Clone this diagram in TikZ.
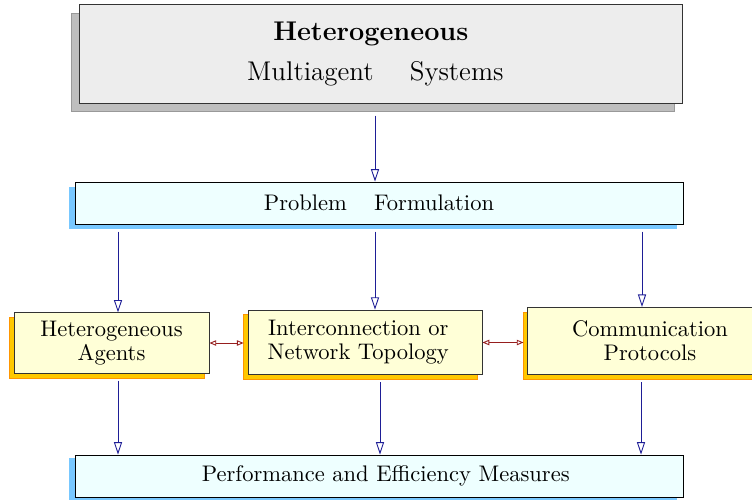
\documentclass[tikz,border=0pt]{standalone}
\usepackage{tikz}
\usetikzlibrary{calc,arrows.meta,positioning,shadows}
\definecolor{cFlow}{RGB}{30,30,150}
\definecolor{cLink}{RGB}{150,30,30}
\definecolor{cTopFill}{RGB}{237,237,237}
\definecolor{cTopShd}{RGB}{190,190,190}
\definecolor{cBlueFill}{RGB}{238,255,255}
\definecolor{cBlueShd}{RGB}{120,200,255}
\definecolor{cYelFill}{RGB}{255,255,215}
\definecolor{cYelShd}{RGB}{255,200,0}
\definecolor{cOrange}{RGB}{255,150,0}

\begin{document}
\begin{tikzpicture}[x=0.0156cm,y=-0.0156cm,
  topbox/.style={draw=black!80,fill=cTopFill,minimum width=9.39cm,minimum height=1.53cm,
    align=center,font=\large,
    general shadow={fill=cTopShd,draw=black!40,shadow xshift=-0.125cm,shadow yshift=-0.125cm}},
  barbox/.style={draw=black,fill=cBlueFill,minimum width=9.48cm,minimum height=0.655cm,
    general shadow={fill=cBlueShd,shadow xshift=-0.094cm,shadow yshift=#1}},
  subbox/.style={draw=black!80,fill=cYelFill,align=center,
    general shadow={fill=cYelShd,draw=cOrange,shadow xshift=-0.075cm,shadow yshift=-0.075cm}},
  flow/.style={cFlow,-{Triangle[open,length=5.5pt,width=3.6pt]},shorten <=0.11cm},
  link/.style={cLink,{Triangle[open,length=3pt,width=2.4pt]}-{Triangle[open,length=3pt,width=2.4pt]}}]
  \useasboundingbox (0,0) rectangle (752,500);
  % boxes
  \node[topbox] (msys) at (381,54)
    {\textbf{Heterogeneous}\hspace*{9pt}\\[4pt]Multiagent\hspace{16pt}Systems\hspace*{5pt}};
  \node[barbox=-0.078cm] (pf) at (379,203) {Problem\hspace{12pt}Formulation};
  \node[subbox,minimum width=3.04cm,minimum height=0.94cm] (ag) at (111.5,343)
    {Heterogeneous\\[-1.3pt]Agents};
  \node[subbox,minimum width=3.65cm,minimum height=1.01cm] (ic) at (365,342.5)
    {Interconnection or\hspace*{6pt}\\[-1.3pt]Network Topology\hspace*{6pt}};
  \node[subbox,minimum width=3.81cm,minimum height=1.05cm] (cp) at (650,341)
    {Communication\\[-1.3pt]Protocols};
  \node[barbox=-0.047cm] (pm) at (379,476) {\hspace*{6pt}Performance and Efficiency Measures};
  % arrow columns
  \coordinate (c1) at (118,0);
  \coordinate (c2) at (375,0);
  \coordinate (c3) at (642,0);
  \coordinate (d2) at (380,0);
  \coordinate (d3) at (641,0);
  \draw[flow,shorten <=0.19cm] (c2 |- msys.south) -- (c2 |- pf.north);
  \draw[flow] (c1 |- pf.south) -- (c1 |- ag.north);
  \draw[flow] (c2 |- pf.south) -- (c2 |- ic.north);
  \draw[flow] (c3 |- pf.south) -- (c3 |- cp.north);
  \draw[flow] (c1 |- ag.south) -- (c1 |- pm.north);
  \draw[flow] (d2 |- ic.south) -- (d2 |- pm.north);
  \draw[flow] (d3 |- cp.south) -- (d3 |- pm.north);
  % lateral links
  \draw[link,shorten >=0.06cm] (ag.east) -- (ag.east -| ic.west);
  \draw[link,shorten >=0.06cm] (ic.east) -- (ic.east -| cp.west);
\end{tikzpicture}
\end{document}
